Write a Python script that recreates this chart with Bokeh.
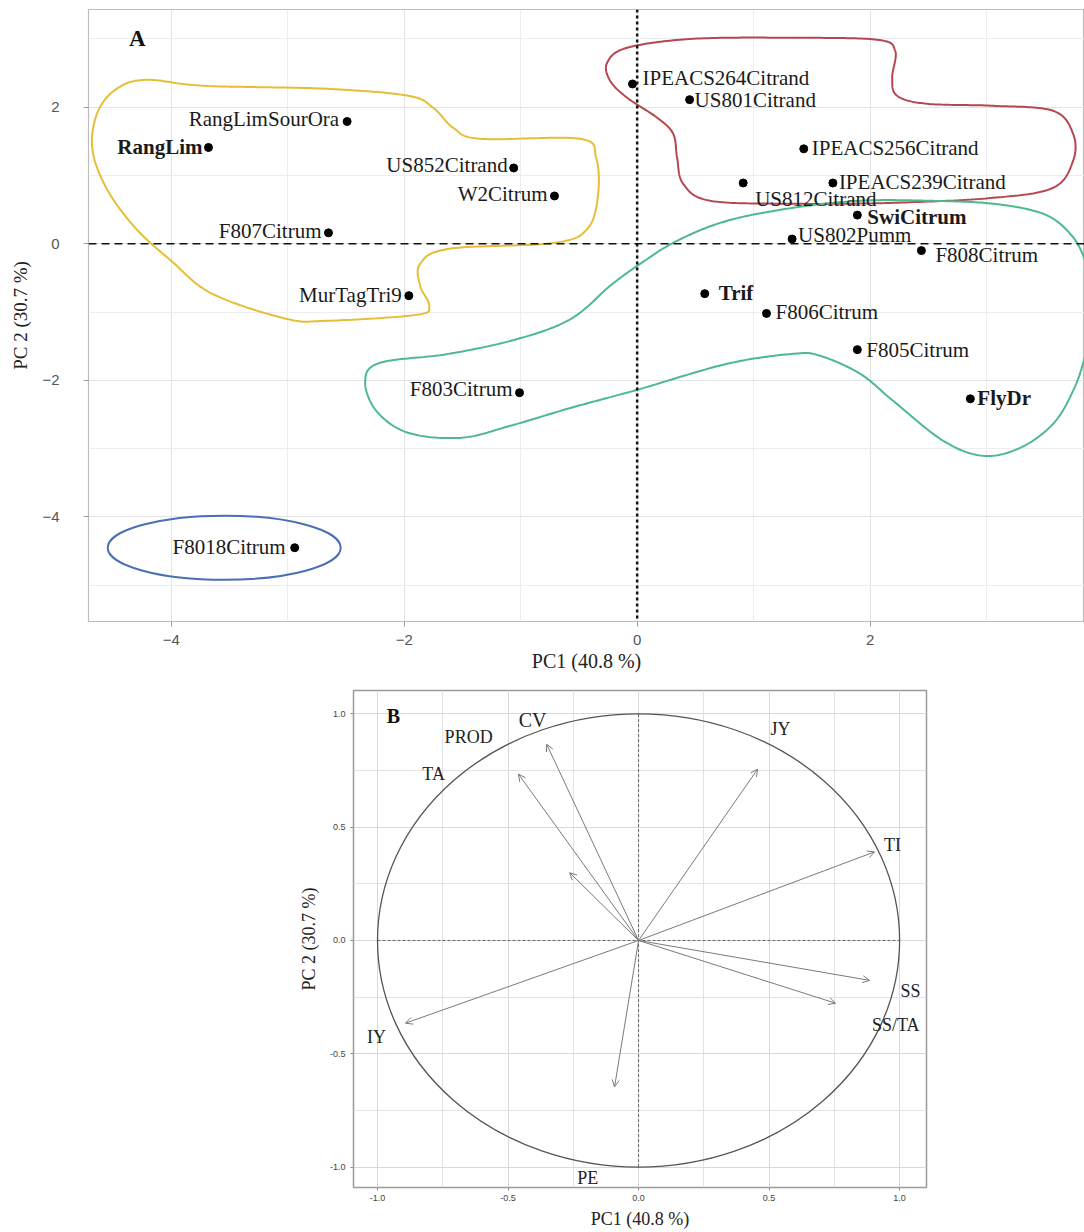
import numpy as np
from bokeh.plotting import figure
from bokeh.models import Span, Title, FixedTicker, ColumnDataSource, Arrow, OpenHead, Spacer
from bokeh.layouts import column, row
from bokeh.embed import file_html
from bokeh.resources import INLINE
from bokeh.core.properties import value

# ---------------- Panel A data ----------------
genotypes = ["RangLimSourOra", "RangLim", "US852Citrand", "W2Citrum", "F807Citrum",
             "MurTagTri9", "F803Citrum", "F8018Citrum", "IPEACS264Citrand", "US801Citrand",
             "IPEACS256Citrand", "US812Citrand", "IPEACS239Citrand", "SwiCitrum", "US802Pumm",
             "F808Citrum", "Trif", "F806Citrum", "F805Citrum", "FlyDr"]
pc1 = [-2.49, -3.68, -1.06, -0.71, -2.65, -1.96, -1.01, -2.94, -0.04, 0.45,
       1.43, 0.91, 1.68, 1.89, 1.33, 2.44, 0.58, 1.11, 1.89, 2.86]
pc2 = [1.79, 1.41, 1.11, 0.70, 0.16, -0.76, -2.18, -4.45, 2.34, 2.11,
       1.39, 0.89, 0.89, 0.42, 0.07, -0.10, -0.73, -1.02, -1.55, -2.27]
bold_names = ["RangLim", "SwiCitrum", "Trif", "FlyDr"]

# cluster outlines (control points, PC1/PC2 units)
yellow_x = [-4.455, -4.206, -3.717, -2.661, -1.966, -1.751, -1.579, -1.348, -0.489, -0.352,
            -0.335, -0.421, -0.704, -1.614, -1.863, -1.863, -1.785, -1.897, -2.661, -3.013,
            -3.648, -4.000, -4.309, -4.558, -4.678, -4.627]
yellow_y = [2.284, 2.401, 2.313, 2.269, 2.167, 1.991, 1.698, 1.537, 1.537, 1.259,
            0.732, 0.234, 0.015, -0.073, -0.293, -0.615, -0.908, -1.040, -1.127, -1.098,
            -0.732, -0.249, 0.234, 0.820, 1.406, 1.947]
red_x = [-0.258, -0.086, 0.481, 1.339, 2.060, 2.215, 2.189, 2.232, 2.489, 3.056, 3.571, 3.742,
         3.742, 3.571, 3.056, 2.197, 1.339, 0.627, 0.395, 0.343, 0.309, 0.172, -0.086, -0.232]
red_y = [2.650, 2.870, 3.001, 3.016, 2.987, 2.826, 2.430, 2.167, 2.050, 2.020, 1.947, 1.611,
         1.215, 0.820, 0.673, 0.600, 0.586, 0.630, 0.878, 1.259, 1.611, 1.845, 2.138, 2.387]
green_x = [-2.335, -2.206, -1.614, -1.021, -0.567, -0.232, 0.026, 0.343, 0.773, 1.339, 1.914,
           2.489, 3.056, 3.485, 3.717, 3.845, 3.931, 3.845, 3.742, 3.571, 3.288, 2.970, 2.627,
           2.197, 1.914, 1.571, 1.339, 0.773, 0.000, -0.567, -1.090, -1.511, -1.966, -2.240]
green_y = [-2.006, -1.742, -1.611, -1.391, -1.098, -0.615, -0.293, 0.044, 0.337, 0.527, 0.630,
           0.630, 0.586, 0.439, 0.146, -0.249, -0.908, -1.640, -2.152, -2.635, -2.987, -3.104,
           -2.884, -2.299, -1.903, -1.640, -1.611, -1.757, -2.138, -2.401, -2.665, -2.840,
           -2.767, -2.445]
blue_center = (-3.545, -4.45)
blue_size = (2.0, 0.94)

# ---------------- Panel B data ----------------
variables = ["CV", "PROD", "TA", "JY", "TI", "SS", "SS/TA", "IY", "PE"]
load_pc1 = [-0.352, -0.460, -0.264, 0.456, 0.904, 0.885, 0.755, -0.893, -0.092]
load_pc2 = [0.866, 0.734, 0.299, 0.756, 0.391, -0.176, -0.277, -0.365, -0.646]
label_pc1 = [-0.406, -0.651, -0.785, 0.544, 0.973, 1.042, 0.985, -1.004, -0.195]
label_pc2 = [0.971, 0.897, 0.734, 0.932, 0.422, -0.224, -0.374, -0.426, -1.046]

# ---------------- styles ----------------
SERIF = "Liberation Serif"
SANS = "Liberation Sans"
label_offsets = {  # (dx, dy) pixels, align
    "RangLimSourOra": (-8, -3, "right"), "RangLim": (-6, 0, "right"),
    "US852Citrand": (-6, -3, "right"), "W2Citrum": (-7, -2, "right"),
    "F807Citrum": (-7, -2, "right"), "MurTagTri9": (-7, -1, "right"),
    "F803Citrum": (-7, -4, "right"), "F8018Citrum": (-9, -1, "right"),
    "IPEACS264Citrand": (10, -6, "left"), "US801Citrand": (5, 0, "left"),
    "IPEACS256Citrand": (8, -1, "left"), "US812Citrand": (12, 16, "left"),
    "IPEACS239Citrand": (6, -1, "left"), "SwiCitrum": (10, 2, "left"),
    "US802Pumm": (6, -4, "left"), "F808Citrum": (14, 4, "left"),
    "Trif": (14, -1, "left"), "F806Citrum": (9, -1, "left"),
    "F805Citrum": (9, 0, "left"), "FlyDr": (7, -1, "left"),
}


def smooth_closed(xs, ys, n=24):
    P = np.column_stack([xs, ys]).astype(float)
    m = len(P)
    t = np.linspace(0, 1, n, endpoint=False)[:, None]
    out = []
    for i in range(m):
        p0, p1, p2, p3 = P[(i - 1) % m], P[i], P[(i + 1) % m], P[(i + 2) % m]
        pts = 0.5 * ((2 * p1) + (-p0 + p2) * t + (2 * p0 - 5 * p1 + 4 * p2 - p3) * t ** 2
                     + (-p0 + 3 * p1 - 3 * p2 + p3) * t ** 3)
        out.append(pts)
    out = np.vstack(out + [P[:1]])
    return out[:, 0].tolist(), out[:, 1].tolist()


# ================= Panel A =================
p1 = figure(width=1084, height=678, x_range=(-4.71, 3.84), y_range=(-5.53, 3.43),
            output_backend="svg", toolbar_location=None,
            min_border_left=88, min_border_right=0, min_border_top=9, min_border_bottom=57)
p1.background_fill_color = "white"
p1.outline_line_color = "#bdbdbd"
p1.outline_line_width = 1.2

for ax in (p1.xaxis[0], p1.yaxis[0]):
    ax.axis_line_color = None
    ax.major_tick_line_color = "#9a9a9a"
    ax.major_tick_out = 5
    ax.major_tick_in = 0
    ax.minor_tick_line_color = None
    ax.major_label_text_font = SANS
    ax.major_label_text_font_size = "15px"
    ax.major_label_text_color = "#555555"
p1.xaxis[0].ticker = FixedTicker(ticks=[-4, -2, 0, 2], minor_ticks=[-5, -3, -1, 1, 3])
p1.yaxis[0].ticker = FixedTicker(ticks=[-4, -2, 0, 2], minor_ticks=[-5, -3, -1, 1, 3])
p1.xaxis[0].major_label_standoff = 8
p1.yaxis[0].major_label_standoff = 24
p1.yaxis[0].axis_label = "PC 2 (30.7 %)"
p1.yaxis[0].axis_label_text_font = SERIF
p1.yaxis[0].axis_label_text_font_style = "normal"
p1.yaxis[0].axis_label_text_font_size = "19px"
p1.yaxis[0].axis_label_text_color = "#222222"
p1.yaxis[0].axis_label_standoff = 8
p1.grid.grid_line_color = "#e3e3e3"
p1.grid.minor_grid_line_color = "#ededed"
p1.add_layout(Title(text="PC1 (40.8 %)", align="center", offset=56, text_font=SERIF,
                    text_font_size="20px", text_font_style="normal", text_color="#222222",
                    standoff=0), "below")

# outlines
for xs, ys, col in ((yellow_x, yellow_y, "#E6BE35"), (red_x, red_y, "#B5474E"),
                    (green_x, green_y, "#4DB98E")):
    sx, sy = smooth_closed(xs, ys)
    p1.line(sx, sy, line_color=col, line_width=2)
p1.ellipse(x=[blue_center[0]], y=[blue_center[1]], width=[blue_size[0]], height=[blue_size[1]],
           fill_color=None, line_color="#4A6FB5", line_width=2)

p1.add_layout(Span(location=0, dimension="width", line_color="#111111", line_dash="8 5",
                   line_width=1.5))
p1.add_layout(Span(location=0, dimension="height", line_color="#111111", line_dash="3 3",
                   line_width=2.5))

srcA = ColumnDataSource(dict(
    x=pc1, y=pc2, name=genotypes,
    style=["bold" if g in bold_names else "normal" for g in genotypes],
    dx=[label_offsets[g][0] for g in genotypes],
    dy=[label_offsets[g][1] for g in genotypes],
    align=[label_offsets[g][2] for g in genotypes],
))
p1.scatter("x", "y", source=srcA, size=8, color="black")
p1.text("x", "y", text="name", source=srcA, x_offset="dx", y_offset="dy",
        text_align="align", text_baseline="middle", text_font=value(SERIF),
        text_font_size="21px", text_font_style="style", text_color="#1a1a1a")
p1.text(x=[-4.29], y=[3.0], text=["A"], text_align="center", text_baseline="middle",
        text_font=value(SERIF), text_font_size="23px", text_font_style="bold",
        text_color="#111111")

# ================= Panel B =================
p2 = figure(width=642, height=553, x_range=(-1.092, 1.103), y_range=(-1.09, 1.103),
            output_backend="svg", toolbar_location=None,
            min_border_left=59, min_border_right=10, min_border_top=12, min_border_bottom=42)
p2.outline_line_color = "#9a9a9a"
p2.outline_line_width = 1.5
ticksB = [-1.0, -0.5, 0.0, 0.5, 1.0]
minorB = [-0.75, -0.25, 0.25, 0.75]
for ax in (p2.xaxis[0], p2.yaxis[0]):
    ax.ticker = FixedTicker(ticks=ticksB, minor_ticks=minorB)
    ax.axis_line_color = None
    ax.major_tick_line_color = "#8a8a8a"
    ax.major_tick_out = 3
    ax.major_tick_in = 0
    ax.minor_tick_line_color = None
    ax.major_label_text_font = SANS
    ax.major_label_text_font_size = "9px"
    ax.major_label_text_color = "#444444"
    ax.major_label_standoff = 4
    ax.axis_label_text_font = SERIF
    ax.axis_label_text_font_style = "normal"
    ax.axis_label_text_font_size = "18px"
    ax.axis_label_text_color = "#222222"
    ax.axis_label_standoff = 8
p2.xaxis[0].major_label_standoff = 3
p2.xaxis[0].axis_label_standoff = 5
p2.xaxis[0].major_label_overrides = {-1.0: "-1.0", -0.5: "-0.5", 0.0: "0.0", 0.5: "0.5", 1.0: "1.0"}
p2.yaxis[0].major_label_overrides = {-1.0: "-1.0", -0.5: "-0.5", 0.0: "0.0", 0.5: "0.5", 1.0: "1.0"}
p2.xaxis[0].axis_label = "PC1 (40.8 %)"
p2.yaxis[0].axis_label = "PC 2 (30.7 %)"
p2.grid.grid_line_color = "#d9d9d9"
p2.grid.minor_grid_line_color = "#e2e2e2"

R = 1.0
p2.segment(x0=[-R], y0=[0], x1=[R], y1=[0], line_color="#666666", line_dash="3 2", line_width=1)
p2.segment(x0=[0], y0=[-R], x1=[0], y1=[R], line_color="#666666", line_dash="3 2", line_width=1)
p2.ellipse(x=[0], y=[0], width=[2 * R], height=[2 * R], fill_color=None,
           line_color="#555555", line_width=1.3)

srcB = ColumnDataSource(dict(x0=[0] * len(variables), y0=[0] * len(variables),
                             x1=load_pc1, y1=load_pc2))
p2.add_layout(Arrow(end=OpenHead(size=7, line_color="#7a7a7a", line_width=1),
                    x_start="x0", y_start="y0", x_end="x1", y_end="y1", source=srcB,
                    line_color="#7a7a7a", line_width=1))
srcL = ColumnDataSource(dict(x=label_pc1, y=label_pc2, t=variables,
                             fs=["20px" if v == "CV" else "18px" for v in variables]))
p2.text("x", "y", text="t", source=srcL, text_align="center", text_baseline="middle",
        text_font=value(SERIF), text_font_size="fs", text_color="#222222")
p2.text(x=[-0.939], y=[0.989], text=["B"], text_align="center", text_baseline="middle",
        text_font=value(SERIF), text_font_size="20px", text_font_style="bold",
        text_color="#111111")

layout = column(p1, row(Spacer(width=294, height=10), p2, spacing=0), spacing=0)
open("out.html", "w").write(file_html(layout, INLINE))
